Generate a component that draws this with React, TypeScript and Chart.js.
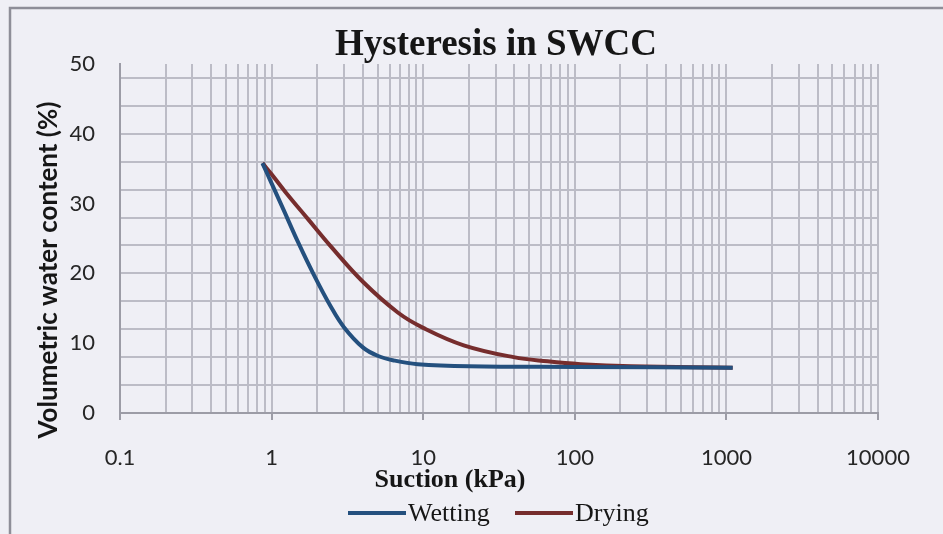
import React, { useEffect, useRef } from 'react';
import { Chart, registerables } from 'chart.js';

Chart.register(...registerables);

const chartTitle = 'Hysteresis in SWCC';
const xAxisTitle = 'Suction (kPa)';
const yAxisTitle = 'Volumetric water content (%)';
const seriesNames = ['Wetting', 'Drying'];

const wettingSuction = [0.87, 1.0, 1.2, 1.5, 1.9, 2.45, 3.0, 4.0, 5.0, 6.5, 9.2, 20, 100, 1100];
const wettingWater = [35.8, 32.9, 29.1, 24.4, 19.8, 15.3, 12.3, 9.4, 8.2, 7.5, 7.0, 6.7, 6.6, 6.5];

const dryingSuction = [0.87, 1.0, 1.24, 1.75, 2.45, 4.0, 6.8, 10, 18.5, 39.5, 66, 109, 235, 1100];
const dryingWater = [35.8, 34.2, 31.6, 27.7, 23.9, 18.8, 14.4, 12.2, 9.7, 8.0, 7.4, 7.0, 6.7, 6.5];

const xTickLabels = ['0.1', '1', '10', '100', '1000', '10000'];
const yTickLabels = ['0', '10', '20', '30', '40', '50'];
const yGridStep = 4;
const yMinorStep = 2;

const xDecadeValues = xTickLabels.map(Number);
const yTickValues = yTickLabels.map(Number);

const BG = '#efeff5';
const GRID = '#bcbcc6';
const AXIS = '#9c9ca6';
const WET = '#24507e';
const DRY = '#762d2d';
const TEXT = '#161616';

const decorPlugin = {
  id: 'decor',
  beforeDraw(chart: any) {
    const { ctx, width, height } = chart;
    ctx.save();
    ctx.fillStyle = BG;
    ctx.fillRect(0, 0, width, height);
    ctx.strokeStyle = '#8e8e98';
    ctx.lineWidth = 2.5;
    ctx.beginPath();
    ctx.moveTo(10, height);
    ctx.lineTo(10, 8);
    ctx.lineTo(width, 8);
    ctx.stroke();
    ctx.restore();
  },
  afterDraw(chart: any) {
    const { ctx, chartArea } = chart;
    ctx.save();
    ctx.fillStyle = TEXT;
    ctx.textAlign = 'center';
    ctx.textBaseline = 'middle';
    // title
    ctx.font = 'bold 37px "Liberation Serif", "Times New Roman", serif';
    ctx.fillText(chartTitle, (chartArea.left + chartArea.right) / 2 - 3, 45);
    // x title
    ctx.font = 'bold 26px "Liberation Serif", "Times New Roman", serif';
    ctx.fillText(xAxisTitle, 450, 480);
    // y title
    ctx.save();
    ctx.translate(49, 270);
    ctx.rotate(-Math.PI / 2);
    ctx.font = 'bold 26px Lato, "Open Sans", sans-serif';
    ctx.fillText(yAxisTitle, 0, 0);
    ctx.restore();
    // legend
    const colors = [WET, DRY];
    const lineStarts = [348, 515];
    ctx.font = '26px "Liberation Serif", "Times New Roman", serif';
    ctx.textAlign = 'left';
    for (let i = 0; i < seriesNames.length; i++) {
      ctx.strokeStyle = colors[i];
      ctx.lineWidth = 4;
      ctx.beginPath();
      ctx.moveTo(lineStarts[i], 513);
      ctx.lineTo(lineStarts[i] + 58, 513);
      ctx.stroke();
      ctx.fillStyle = TEXT;
      ctx.fillText(seriesNames[i], lineStarts[i] + 60, 514);
    }
    ctx.restore();
  },
};

export default function App() {
  const canvasRef = useRef<HTMLCanvasElement | null>(null);

  useEffect(() => {
    const canvas = canvasRef.current;
    if (!canvas) return;
    const chart = new Chart(canvas, {
      type: 'scatter',
      data: {
        datasets: [
          {
            label: seriesNames[0],
            data: wettingSuction.map((x, i) => ({ x, y: wettingWater[i] })),
            borderColor: WET,
            backgroundColor: WET,
            borderWidth: 4,
            showLine: true,
            pointRadius: 0,
            tension: 0.4,
          },
          {
            label: seriesNames[1],
            data: dryingSuction.map((x, i) => ({ x, y: dryingWater[i] })),
            borderColor: DRY,
            backgroundColor: DRY,
            borderWidth: 4,
            showLine: true,
            pointRadius: 0,
            tension: 0.4,
          },
        ],
      },
      options: {
        responsive: false,
        animation: false,
        devicePixelRatio: 1,
        layout: { padding: { top: 64, right: 65, left: 0, bottom: 0 } },
        plugins: {
          legend: { display: false },
          title: { display: false },
          tooltip: { enabled: false },
        },
        scales: {
          x: {
            type: 'logarithmic',
            min: 0.1,
            max: 10000,
            afterBuildTicks: (scale: any) => {
              const ticks: any[] = [];
              for (let d = 0; d < xDecadeValues.length; d++) {
                const base = xDecadeValues[d];
                ticks.push({ value: base });
                if (d < xDecadeValues.length - 1) {
                  for (let m = 2; m <= 9; m++) ticks.push({ value: base * m });
                }
              }
              scale.ticks = ticks;
            },
            afterFit: (scale: any) => {
              scale.height = 121;
            },
            ticks: {
              autoSkip: false,
              maxRotation: 0,
              padding: 25,
              color: '#262626',
              font: { family: 'Lato, "Open Sans", sans-serif', size: 22 },
              callback: (value: any) => {
                const i = xDecadeValues.indexOf(Number(value));
                return i >= 0 ? xTickLabels[i] : '';
              },
            },
            grid: {
              color: GRID,
              lineWidth: 2,
              drawTicks: true,
              tickLength: 7,
              tickColor: (ctx: any) =>
                ctx.tick && xDecadeValues.indexOf(ctx.tick.value) >= 0 ? AXIS : 'rgba(0,0,0,0)',
            },
            border: { display: true, color: AXIS, width: 2 },
          },
          y: {
            type: 'linear',
            min: 0,
            max: 50,
            afterBuildTicks: (scale: any) => {
              const ticks: any[] = [];
              for (let v = 0; v <= 50; v += yMinorStep) ticks.push({ value: v });
              scale.ticks = ticks;
            },
            afterFit: (scale: any) => {
              scale.width = 120;
            },
            ticks: {
              autoSkip: false,
              padding: 25,
              color: '#262626',
              font: { family: 'Lato, "Open Sans", sans-serif', size: 22 },
              callback: (value: any) => {
                const i = yTickValues.indexOf(Number(value));
                return i >= 0 ? yTickLabels[i] : '';
              },
            },
            grid: {
              color: (ctx: any) =>
                ctx.tick && ctx.tick.value % yGridStep === 0 ? GRID : 'rgba(0,0,0,0)',
              lineWidth: 2,
              drawTicks: false,
            },
            border: { display: true, color: AXIS, width: 2 },
          },
        },
      },
      plugins: [decorPlugin],
    } as any);
    return () => chart.destroy();
  }, []);

  return (
    <div style={{ position: 'absolute', left: 0, top: 0, width: 943, height: 534 }}>
      <canvas ref={canvasRef} width={943} height={534} style={{ width: 943, height: 534, display: 'block' }} />
    </div>
  );
}
